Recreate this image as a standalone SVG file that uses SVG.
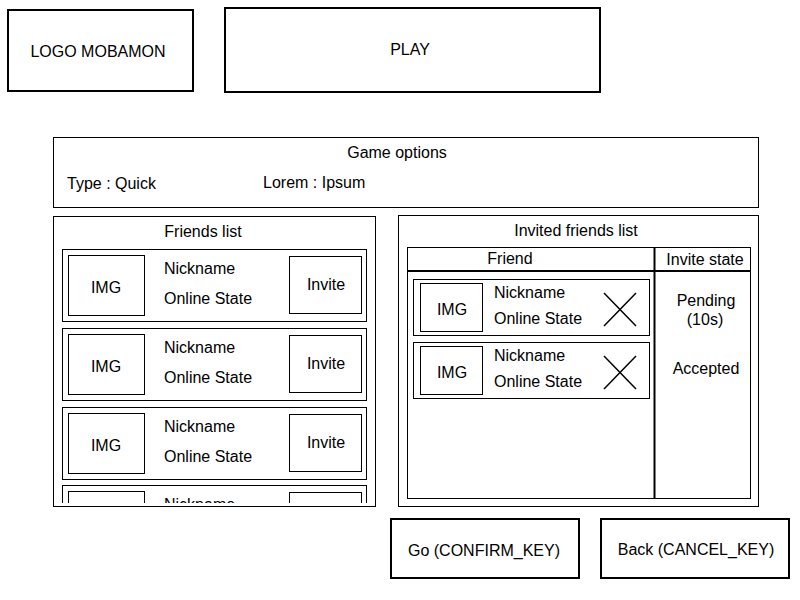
<svg xmlns="http://www.w3.org/2000/svg" width="800" height="600" viewBox="0 0 800 600">
<style>
text{font-family:"Liberation Sans",Arial,sans-serif;font-size:16px;fill:#000}
.c{text-anchor:middle}
.thin{fill:#fff;stroke:#000;stroke-width:1}
.thick{fill:#fff;stroke:#000;stroke-width:2}
.ln{stroke:#000;stroke-width:2;fill:none}
</style>
<rect width="800" height="600" fill="#fff"/>
<g id="logo"><rect class="thick" x="8" y="10" width="185" height="81"/><text class="c" x="98" y="57">LOGO MOBAMON</text></g>
<g id="play"><rect class="thick" x="225" y="8" width="375" height="84"/><text class="c" x="410" y="55">PLAY</text></g>
<g id="game-options"><rect class="thin" x="53.5" y="137.5" width="705" height="70"/><text class="c" x="397" y="158">Game options</text><text x="67" y="189">Type : Quick</text><text x="263" y="188">Lorem : Ipsum</text></g>
<g id="friends-list">
<rect class="thin" x="53.5" y="216.5" width="322" height="290"/>
<text class="c" x="203" y="237">Friends list</text>
<defs><clipPath id="fc"><rect x="54" y="217" width="321" height="286"/></clipPath></defs>
<g clip-path="url(#fc)">
<g id="friend1"><rect class="thin" x="62.5" y="249.5" width="304" height="72"/><rect class="thin" x="68.5" y="255.5" width="76" height="60"/><text class="c" x="106" y="293">IMG</text><text x="164" y="274">Nickname</text><text x="164" y="304">Online State</text><rect class="thin" x="289.5" y="256.5" width="72" height="57"/><text class="c" x="326" y="290">Invite</text></g>
<g id="friend2"><rect class="thin" x="62.5" y="328.5" width="304" height="72"/><rect class="thin" x="68.5" y="334.5" width="76" height="60"/><text class="c" x="106" y="372">IMG</text><text x="164" y="353">Nickname</text><text x="164" y="383">Online State</text><rect class="thin" x="289.5" y="335.5" width="72" height="57"/><text class="c" x="326" y="369">Invite</text></g>
<g id="friend3"><rect class="thin" x="62.5" y="407.5" width="304" height="72"/><rect class="thin" x="68.5" y="413.5" width="76" height="60"/><text class="c" x="106" y="451">IMG</text><text x="164" y="432">Nickname</text><text x="164" y="462">Online State</text><rect class="thin" x="289.5" y="414.5" width="72" height="57"/><text class="c" x="326" y="448">Invite</text></g>
<g id="friend4"><rect class="thin" x="62.5" y="485.5" width="304" height="72"/><rect class="thin" x="68.5" y="491.5" width="76" height="60"/><text class="c" x="106" y="529">IMG</text><text x="164" y="510">Nickname</text><text x="164" y="540">Online State</text><rect class="thin" x="289.5" y="492.5" width="72" height="57"/><text class="c" x="326" y="526">Invite</text></g>
</g>
</g>
<g id="invited-list">
<rect class="thin" x="398.5" y="215.5" width="360" height="291"/>
<text class="c" x="576" y="236">Invited friends list</text>
<rect class="thin" x="407.5" y="247.5" width="343" height="251"/>
<line class="ln" x1="407" y1="271" x2="751" y2="271"/>
<line class="ln" x1="654.5" y1="247" x2="654.5" y2="499"/>
<text class="c" x="510" y="264">Friend</text>
<text class="c" x="705" y="265">Invite state</text>
<g id="invited1"><rect class="thin" x="413.5" y="279.5" width="236" height="56"/><rect class="thin" x="420.5" y="283.5" width="62" height="48"/><text class="c" x="452" y="315">IMG</text><text x="494" y="298">Nickname</text><text x="494" y="324">Online State</text><path class="ln" d="M604 293L636 326M604 326L636 293" style="stroke-width:1.5"/></g>
<g id="invited2"><rect class="thin" x="413.5" y="342.5" width="236" height="56"/><rect class="thin" x="420.5" y="346.5" width="62" height="48"/><text class="c" x="452" y="378">IMG</text><text x="494" y="361">Nickname</text><text x="494" y="387">Online State</text><path class="ln" d="M604 356L636 389M604 389L636 356" style="stroke-width:1.5"/></g>
<text class="c" x="706" y="306">Pending</text>
<text class="c" x="705" y="325">(10s)</text>
<text class="c" x="706" y="374">Accepted</text>
</g>
<g id="go"><rect class="thick" x="391" y="519" width="188" height="59"/><text class="c" x="484" y="556">Go (CONFIRM_KEY)</text></g>
<g id="back"><rect class="thick" x="601" y="519" width="188" height="59"/><text class="c" x="696" y="555">Back (CANCEL_KEY)</text></g>
<g id="connectors"/>
</svg>
